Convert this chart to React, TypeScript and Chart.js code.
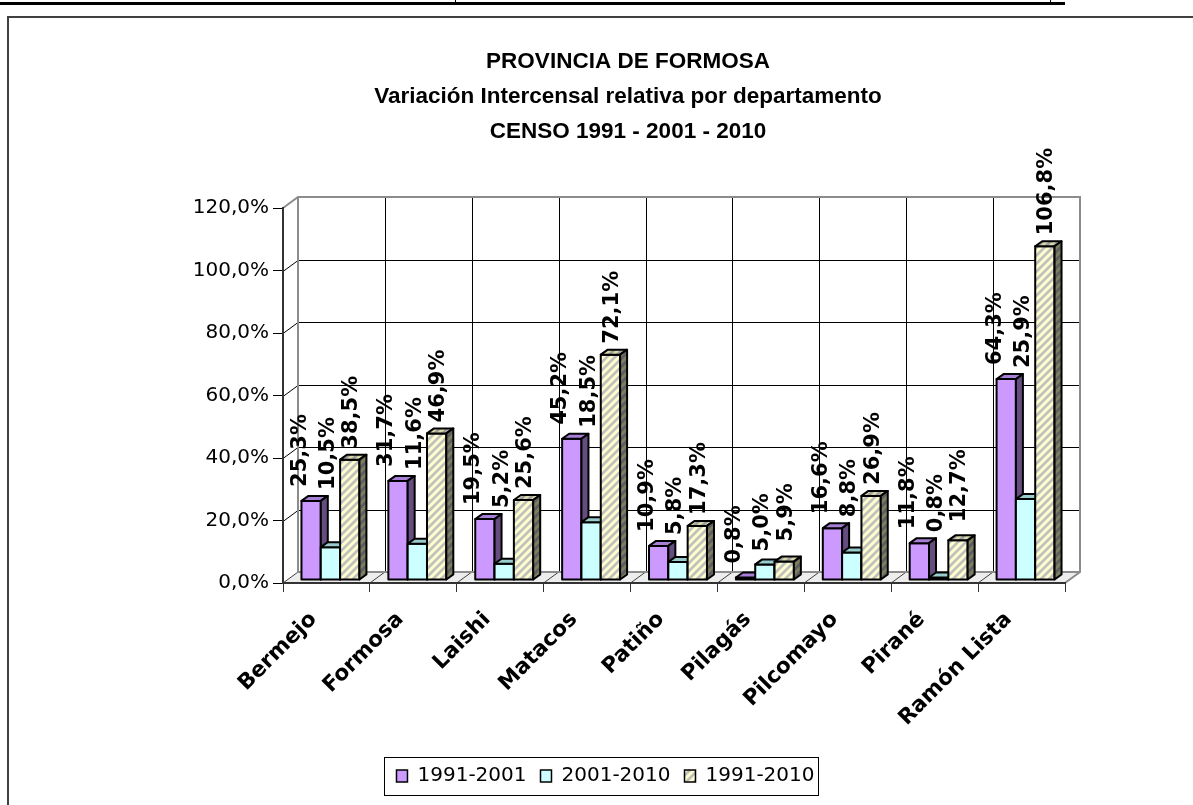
import React, { useEffect, useRef } from 'react';
import { Chart, registerables } from 'chart.js';
Chart.register(...registerables);

const categories = ['Bermejo', 'Formosa', 'Laishi', 'Matacos', 'Patiño', 'Pilagás', 'Pilcomayo', 'Pirané', 'Ramón Lista'];
const series1991_2001 = [25.3, 31.7, 19.5, 45.2, 10.9, 0.8, 16.6, 11.8, 64.3];
const series2001_2010 = [10.5, 11.6, 5.2, 18.5, 5.8, 5.0, 8.8, 0.8, 25.9];
const series1991_2010 = [38.5, 46.9, 25.6, 72.1, 17.3, 5.9, 26.9, 12.7, 106.8];
const seriesNames = ['1991-2001', '2001-2010', '1991-2010'];
const titleLines = ['PROVINCIA DE FORMOSA', 'Variación Intercensal relativa por departamento', 'CENSO 1991 - 2001 - 2010'];
const yTicks = [0, 20, 40, 60, 80, 100, 120];

const FONT = '"DejaVu Sans", Verdana, sans-serif';
const TITLE_FONT = '"Liberation Sans", Arial, sans-serif';
const fmt = (v: number) => v.toFixed(1).replace('.', ',') + '%';

// 3D geometry (styles)
const WDX = 15, WDY = 11; // wall depth
const BX = 4, BY = 3; // bar shift into depth
const BDX = 7, BDY = 5; // bar depth

function stripePattern(bg: string, stripe: string) {
  const c = document.createElement('canvas');
  c.width = 8; c.height = 8;
  const g = c.getContext('2d')!;
  g.fillStyle = bg; g.fillRect(0, 0, 8, 8);
  g.strokeStyle = stripe; g.lineWidth = 3;
  g.beginPath();
  g.moveTo(-1, 9); g.lineTo(9, -1);
  g.moveTo(-5, 5); g.lineTo(5, -5);
  g.moveTo(3, 13); g.lineTo(13, 3);
  g.stroke();
  return g.createPattern(c, 'repeat')!;
}

export default function App() {
  const ref = useRef<HTMLCanvasElement>(null);
  useEffect(() => {
    const canvas = ref.current!;
    const hatchFront = stripePattern('#C0C0C0', '#FFFFCC');
    const hatchTop = stripePattern('#A0A0A0', '#D8D8A8');
    const hatchSide = stripePattern('#5E5E5E', '#7E7E60');
    const faces = [
      { front: '#CC99FF', top: '#A77FD6', side: '#664D80' },
      { front: '#CCFFFF', top: '#99CCCC', side: '#668080' },
      { front: hatchFront, top: hatchTop, side: hatchSide },
    ];
    const labelDx = [-11, -2, 2];

    const threeD = {
      id: 'threeD',
      afterLayout(chart: any) {
        const t = chart.titleBlock;
        if (t && !t._shifted) { t.left += 22.5; t.right += 22.5; t._shifted = true; }
      },
      beforeDraw(chart: any) {
        const { ctx, chartArea: a, scales } = chart;
        const y = scales.y, x = scales.x;
        ctx.save();
        ctx.fillStyle = '#fff';
        ctx.fillRect(0, 0, chart.width, chart.height);
        // page header line
        ctx.fillStyle = '#000';
        ctx.fillRect(0, 2, 1065, 3);
        ctx.fillRect(455, 0, 1, 3);
        ctx.fillRect(1050, 0, 1, 3);
        // chart frame
        ctx.strokeStyle = '#404040';
        ctx.lineWidth = 2;
        ctx.beginPath();
        ctx.moveTo(1193, 17); ctx.lineTo(8, 17); ctx.lineTo(8, 805);
        ctx.stroke();

        // floor
        ctx.fillStyle = '#EDEDED';
        ctx.beginPath();
        ctx.moveTo(a.left, a.bottom); ctx.lineTo(a.left + WDX, a.bottom - WDY);
        ctx.lineTo(a.right + WDX, a.bottom - WDY); ctx.lineTo(a.right, a.bottom);
        ctx.closePath(); ctx.fill();

        // back wall gridlines + side wall diagonals
        ctx.strokeStyle = '#000';
        ctx.lineWidth = 1;
        ctx.beginPath();
        for (const v of yTicks) {
          if (v === yTicks[0] || v === yTicks[yTicks.length - 1]) continue;
          const py = Math.round(y.getPixelForValue(v)) + 0.5;
          ctx.moveTo(a.left, py); ctx.lineTo(a.left + WDX, py - WDY);
          ctx.moveTo(a.left + WDX, py - WDY); ctx.lineTo(a.right + WDX, py - WDY);
        }
        for (let i = 1; i < categories.length; i++) {
          const bx = Math.round(x.getPixelForValue(i - 0.5) + WDX) + 0.5;
          ctx.moveTo(bx, a.top - WDY); ctx.lineTo(bx, a.bottom - WDY);
        }
        ctx.stroke();

        // floor diagonals
        ctx.strokeStyle = '#404040';
        ctx.beginPath();
        for (let i = 0; i <= categories.length; i++) {
          const bx = x.getPixelForValue(i - 0.5);
          ctx.moveTo(bx, a.bottom); ctx.lineTo(bx + WDX, a.bottom - WDY);
        }
        ctx.stroke();

        // wall borders
        ctx.strokeStyle = '#8C8C8C';
        ctx.lineWidth = 2;
        ctx.beginPath();
        ctx.moveTo(a.left, a.top); ctx.lineTo(a.left + WDX, a.top - WDY);
        ctx.lineTo(a.right + WDX, a.top - WDY); ctx.lineTo(a.right + WDX, a.bottom - WDY);
        ctx.lineTo(a.right, a.bottom);
        ctx.moveTo(a.left + WDX, a.top - WDY); ctx.lineTo(a.left + WDX, a.bottom - WDY);
        ctx.lineTo(a.right + WDX, a.bottom - WDY);
        ctx.stroke();
        ctx.restore();
      },
      beforeDatasetsDraw(chart: any) {
        const { ctx } = chart;
        ctx.save();
        ctx.lineWidth = 2;
        ctx.lineJoin = 'round';
        ctx.strokeStyle = '#000';
        for (let i = 0; i < categories.length; i++) {
          for (let d = 0; d < 3; d++) {
            const el = chart.getDatasetMeta(d).data[i];
            const { x, y, base, width } = el.getProps(['x', 'y', 'base', 'width'], true);
            const l = x - width / 2 + BX, r = x + width / 2 + BX;
            const t = y - BY, b = base - BY;
            const f = faces[d];
            // front
            ctx.fillStyle = f.front;
            ctx.beginPath(); ctx.rect(l, t, r - l, b - t); ctx.fill(); ctx.stroke();
            // top
            ctx.fillStyle = f.top;
            ctx.beginPath();
            ctx.moveTo(l, t); ctx.lineTo(l + BDX, t - BDY); ctx.lineTo(r + BDX, t - BDY); ctx.lineTo(r, t);
            ctx.closePath(); ctx.fill(); ctx.stroke();
            // side
            ctx.fillStyle = f.side;
            ctx.beginPath();
            ctx.moveTo(r, t); ctx.lineTo(r + BDX, t - BDY); ctx.lineTo(r + BDX, b - BDY); ctx.lineTo(r, b);
            ctx.closePath(); ctx.fill(); ctx.stroke();
          }
        }
        ctx.restore();
        return false;
      },
      afterDraw(chart: any) {
        const { ctx } = chart;
        ctx.save();
        // data labels
        ctx.font = `bold 21px ${FONT}`;
        ctx.fillStyle = '#000';
        ctx.textAlign = 'left';
        ctx.textBaseline = 'middle';
        for (let i = 0; i < categories.length; i++) {
          const bottoms: number[] = [];
          for (let d = 0; d < 3; d++) {
            const meta = chart.getDatasetMeta(d);
            const el = meta.data[i];
            const { x, y } = el.getProps(['x', 'y'], true);
            const top = y - BY;
            let lb: number;
            if (d === 0) lb = top - 14;
            else if (d === 1) lb = Math.min(top - 13, bottoms[0] + 3);
            else lb = Math.min(top - 11, bottoms[1] - 10);
            bottoms.push(lb);
            const v = chart.data.datasets[d].data[i] as number;
            ctx.save();
            ctx.translate(x + BX + labelDx[d], lb);
            ctx.rotate(-Math.PI / 2);
            ctx.fillText(fmt(v), 0, 0);
            ctx.restore();
          }
        }
        // legend border
        const L = chart.legend;
        if (L && L.legendHitBoxes && L.legendHitBoxes.length) {
          const hb = L.legendHitBoxes;
          const left = Math.min(...hb.map((h: any) => h.left)) - 12;
          const right = Math.max(...hb.map((h: any) => h.left + h.width)) + 4;
          const cy = hb[0].top + hb[0].height / 2;
          ctx.strokeStyle = '#000';
          ctx.lineWidth = 1;
          ctx.strokeRect(Math.round(left) + 0.5, Math.round(cy - 19) + 0.5, Math.round(right - left), 38);
        }
        ctx.restore();
      },
    };

    const chart = new Chart(canvas, {
      type: 'bar',
      data: {
        labels: categories,
        datasets: [
          { label: seriesNames[0], data: series1991_2001, backgroundColor: faces[0].front as any, borderColor: '#000', borderWidth: 1.5 },
          { label: seriesNames[1], data: series2001_2010, backgroundColor: faces[1].front as any, borderColor: '#000', borderWidth: 1.5 },
          { label: seriesNames[2], data: series1991_2010, backgroundColor: faces[2].front as any, borderColor: '#000', borderWidth: 1.5 },
        ],
      },
      options: {
        responsive: false,
        animation: false,
        events: [],
        layout: { padding: { left: 146, right: 128, top: 0, bottom: 9 } },
        datasets: { bar: { categoryPercentage: 0.667, barPercentage: 1 } } as any,
        scales: {
          x: {
            offset: true,
            grid: { display: true, drawOnChartArea: false, drawTicks: true, tickLength: 9, offset: true, color: '#333', lineWidth: 1 },
            border: { display: true, color: '#333', width: 2 },
            ticks: {
              font: { family: FONT, size: 21.5, weight: 'bold' },
              color: '#000',
              minRotation: 45,
              maxRotation: 45,
              padding: 15,
              labelOffset: -13,
              autoSkip: false,
            },
            afterFit: (s: any) => { s.height = 169; },
          } as any,
          y: {
            min: yTicks[0],
            max: yTicks[yTicks.length - 1],
            afterBuildTicks: (s: any) => { s.ticks = yTicks.map((v) => ({ value: v })); },
            ticks: {
              font: { family: FONT, size: 20 },
              color: '#000',
              padding: 4,
              callback: (v: any) => fmt(Number(v)),
            },
            grid: { drawOnChartArea: false, drawTicks: true, tickLength: 10, color: '#000', lineWidth: 1 },
            border: { display: true, color: '#333', width: 2 },
            afterFit: (s: any) => { s.width = 137; },
          } as any,
        },
        plugins: {
          title: {
            display: true,
            text: titleLines,
            color: '#000',
            font: { family: TITLE_FONT, size: 22.5, weight: 'bold', lineHeight: 35 / 22.5 },
            padding: { top: 44.5, bottom: 58.5 },
          },
          legend: {
            position: 'bottom',
            labels: {
              boxWidth: 11,
              boxHeight: 12,
              padding: 14,
              color: '#000',
              font: { family: FONT, size: 20 },
            },
          },
          tooltip: { enabled: false },
        },
      },
      plugins: [threeD as any],
    });
    return () => chart.destroy();
  }, []);

  return (
    <div style={{ position: 'fixed', left: 0, top: 0, width: 1193, height: 805, background: '#fff' }}>
      <canvas ref={ref} width={1193} height={805} style={{ display: 'block' }} />
    </div>
  );
}
